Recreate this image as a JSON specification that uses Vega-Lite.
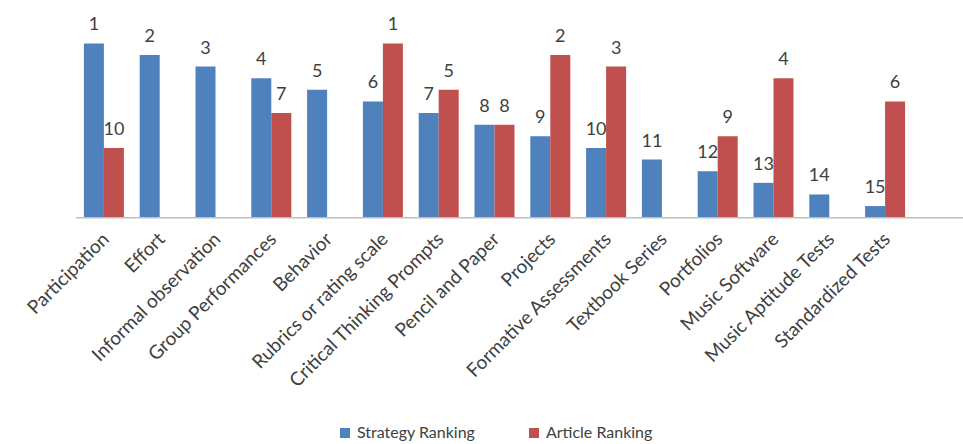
{
  "$schema": "https://vega.github.io/schema/vega-lite/v6.json",
  "width": 887,
  "height": 205.7,
  "autosize": {"type": "none"},
  "padding": {"left": 76, "top": 12, "right": 0, "bottom": 226},
  "config": {"view": {"stroke": null}, "font": "Lato"},
  "data": {
    "values": [
      {"category": "Participation", "series": "Strategy Ranking", "rank": 1, "height": 15},
      {"category": "Participation", "series": "Article Ranking", "rank": 10, "height": 6},
      {"category": "Effort", "series": "Strategy Ranking", "rank": 2, "height": 14},
      {"category": "Informal observation", "series": "Strategy Ranking", "rank": 3, "height": 13},
      {"category": "Group Performances", "series": "Strategy Ranking", "rank": 4, "height": 12},
      {"category": "Group Performances", "series": "Article Ranking", "rank": 7, "height": 9},
      {"category": "Behavior", "series": "Strategy Ranking", "rank": 5, "height": 11},
      {"category": "Rubrics or rating scale", "series": "Strategy Ranking", "rank": 6, "height": 10},
      {"category": "Rubrics or rating scale", "series": "Article Ranking", "rank": 1, "height": 15},
      {"category": "Critical Thinking Prompts", "series": "Strategy Ranking", "rank": 7, "height": 9},
      {"category": "Critical Thinking Prompts", "series": "Article Ranking", "rank": 5, "height": 11},
      {"category": "Pencil and Paper", "series": "Strategy Ranking", "rank": 8, "height": 8},
      {"category": "Pencil and Paper", "series": "Article Ranking", "rank": 8, "height": 8},
      {"category": "Projects", "series": "Strategy Ranking", "rank": 9, "height": 7},
      {"category": "Projects", "series": "Article Ranking", "rank": 2, "height": 14},
      {"category": "Formative Assessments", "series": "Strategy Ranking", "rank": 10, "height": 6},
      {"category": "Formative Assessments", "series": "Article Ranking", "rank": 3, "height": 13},
      {"category": "Textbook Series", "series": "Strategy Ranking", "rank": 11, "height": 5},
      {"category": "Portfolios", "series": "Strategy Ranking", "rank": 12, "height": 4},
      {"category": "Portfolios", "series": "Article Ranking", "rank": 9, "height": 7},
      {"category": "Music Software", "series": "Strategy Ranking", "rank": 13, "height": 3},
      {"category": "Music Software", "series": "Article Ranking", "rank": 4, "height": 12},
      {"category": "Music Aptitude Tests", "series": "Strategy Ranking", "rank": 14, "height": 2},
      {"category": "Standardized Tests", "series": "Strategy Ranking", "rank": 15, "height": 1},
      {"category": "Standardized Tests", "series": "Article Ranking", "rank": 6, "height": 10}
    ]
  },
  "layer": [
    {
      "mark": {"type": "bar"},
      "encoding": {
        "x": {
          "field": "category", "type": "nominal", "sort": null,
          "scale": {"range": [0, 837], "paddingInner": 0.283, "paddingOuter": 0.1415},
          "axis": {"title": null, "domain": false, "ticks": false, "labelAngle": -45, "labelAlign": "right", "labelBaseline": "middle", "labelPadding": 18, "labelOffset": 2, "labelFontSize": 19, "labelColor": "#404040", "labelFont": "Lato", "labelLimit": 300}
        },
        "xOffset": {"field": "series", "type": "nominal", "scale": {"domain": ["Strategy Ranking", "Article Ranking"], "paddingInner": 0, "paddingOuter": 0}},
        "y": {"field": "height", "type": "quantitative", "scale": {"domain": [0, 17.7], "nice": false}, "axis": null},
        "color": {
          "field": "series", "type": "nominal",
          "scale": {"domain": ["Strategy Ranking", "Article Ranking"], "range": ["#4F81BD", "#C0504D"]},
          "legend": {"title": null, "orient": "none", "legendX": 261, "legendY": 413, "direction": "horizontal", "symbolType": "square", "symbolSize": 100, "symbolStrokeWidth": 0, "labelFontSize": 16, "labelColor": "#404040", "labelFont": "Lato", "labelOffset": 4, "columnPadding": 50, "padding": 0}
        }
      }
    },
    {
      "mark": {"type": "text", "baseline": "bottom", "dy": -9, "fontSize": 18, "color": "#404040", "font": "Lato"},
      "encoding": {
        "x": {"field": "category", "type": "nominal", "sort": null},
        "xOffset": {"field": "series", "type": "nominal"},
        "y": {"field": "height", "type": "quantitative"},
        "text": {"field": "rank", "type": "quantitative"}
      }
    },
    {
      "data": {"values": [{"base": 0}]},
      "mark": {"type": "rule", "color": "#BFBFBF", "strokeWidth": 1.5},
      "encoding": {"y": {"field": "base", "type": "quantitative"}}
    }
  ]
}
